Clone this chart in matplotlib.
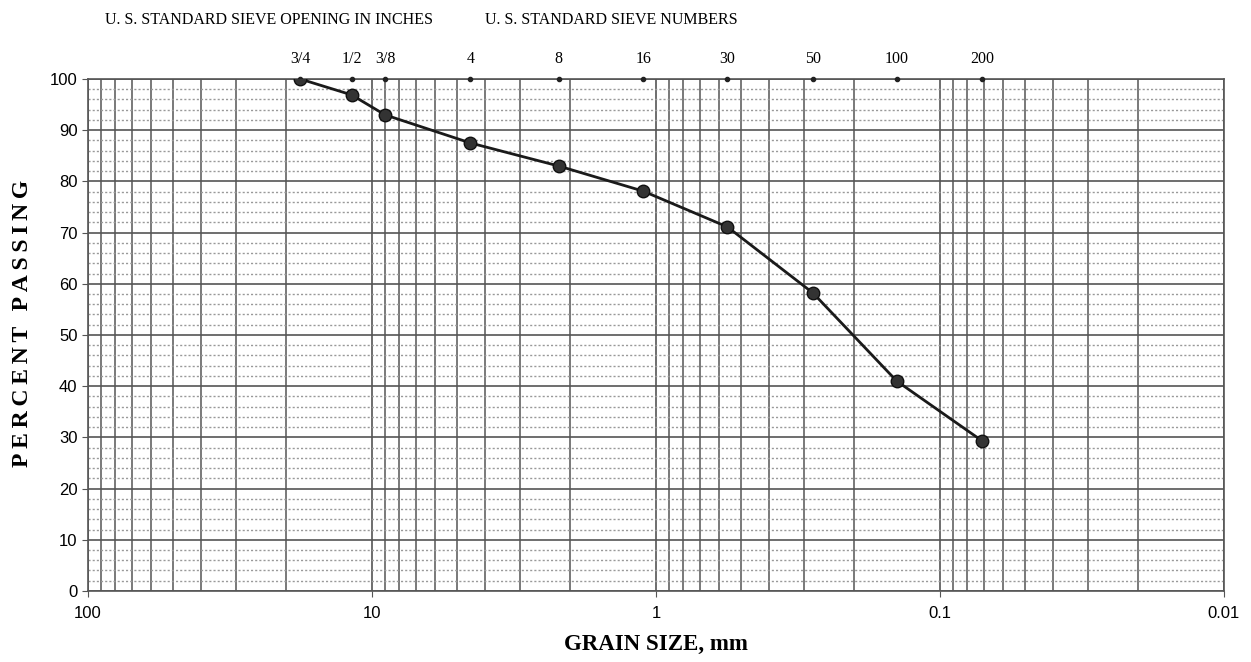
import matplotlib.pyplot as plt
from matplotlib.ticker import LogLocator, MultipleLocator, FixedLocator, NullFormatter

# sieve sizes (mm) and results
sieve_labels = ['3/4', '1/2', '3/8', '4', '8', '16', '30', '50', '100', '200']
sieve_mm = [17.9, 11.8, 9.0, 4.5, 2.2, 1.11, 0.56, 0.28, 0.142, 0.071]
percent_passing = [100, 96.9, 93, 87.5, 83, 78.1, 71.1, 58.2, 41, 29.3]

fig = plt.figure(figsize=(12.51, 6.62), dpi=100)
ax = fig.add_axes([0.0703, 0.1073, 0.9081, 0.7734])

ax.set_xscale('log')
ax.set_xlim(100, 0.01)
ax.set_ylim(0, 100)

ax.xaxis.set_major_locator(FixedLocator([100, 10, 1, 0.1, 0.01]))
ax.set_xticklabels(['100', '10', '1', '0.1', '0.01'])
ax.xaxis.set_minor_locator(LogLocator(base=10, subs=range(2, 10)))
ax.xaxis.set_minor_formatter(NullFormatter())
ax.yaxis.set_major_locator(MultipleLocator(10))
ax.yaxis.set_minor_locator(MultipleLocator(2))

ax.grid(which='major', axis='both', color='#555555', linewidth=1.2)
ax.grid(which='minor', axis='x', color='#555555', linewidth=1.1)
ax.grid(which='minor', axis='y', color='#999999', linewidth=1.0, linestyle=(0, (1.5, 1.5)))
ax.tick_params(which='minor', length=0)
ax.tick_params(which='major', labelsize=12, length=4, color='#555555')
ax.tick_params(axis='x', pad=6.5)
for lbl in ax.get_xticklabels() + ax.get_yticklabels():
    lbl.set_family('Liberation Sans')
for s in ax.spines.values():
    s.set_color('#555555')
    s.set_linewidth(1.2)

ax.plot(sieve_mm, percent_passing, color='#1a1a1a', linewidth=2, marker='o',
        markersize=9, markerfacecolor='#333333', markeredgecolor='#111111', zorder=5)

# sieve markers along the top
ax.plot(sieve_mm, [100] * len(sieve_mm), linestyle='none', marker='o',
        markersize=3, color='#222222', clip_on=False, zorder=4)
for lab, x in zip(sieve_labels, sieve_mm):
    ax.annotate(lab, (x, 100), xytext=(0, 14.5), textcoords='offset points',
                ha='center', va='center', fontsize=11.5, family='Liberation Serif')

fig.text(0.084, 0.970, 'U. S. STANDARD SIEVE OPENING IN INCHES', fontsize=11.5,
         family='Liberation Serif', va='center')
fig.text(0.388, 0.970, 'U. S. STANDARD SIEVE NUMBERS', fontsize=11.5,
         family='Liberation Serif', va='center')

ax.set_xlabel('GRAIN SIZE, mm', fontsize=16.5, fontweight='bold',
              family='Liberation Serif', labelpad=10)
# the y title is spread out in the original, thin spaces between letters
ax.set_ylabel('\u2009'.join('PERCENT PASSING'), fontsize=17, fontweight='bold',
              family=['Liberation Serif', 'DejaVu Serif'])
ax.yaxis.set_label_coords(-0.048, 0.523)

fig.savefig('out.png', dpi=100)
